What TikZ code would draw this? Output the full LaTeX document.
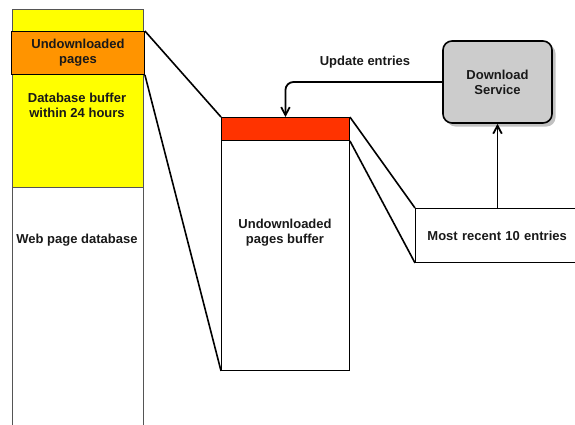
\documentclass[tikz,border=0pt]{standalone}
\usepackage{fontspec}
\setmainfont{Liberation Sans}
\usepackage{xcolor}
\usetikzlibrary{arrows.meta,positioning,shadows}
\definecolor{bufyellow}{HTML}{FFFF00}
\definecolor{pageorange}{HTML}{FF9400}
\definecolor{headred}{HTML}{FF3300}
\definecolor{servgray}{HTML}{CCCCCC}
\definecolor{edgegray}{HTML}{555555}

\begin{document}
\begin{tikzpicture}[
  x=1pt,y=-1pt,
  every node/.style={font=\fontsize{13}{15}\selectfont\bfseries,text=black!90,align=center,inner sep=0pt},
  col/.style={draw=edgegray,anchor=north west,minimum width=131pt},
  blk/.style={draw=black,anchor=north west,line width=0.9pt},
  link/.style={line width=1.6pt},
  arrow/.style={-{Straight Barb[length=2.8mm,width=3mm]},line width=1.8pt}
]
\useasboundingbox (0,0) rectangle (575,424);
% left column
\node[col,fill=white,minimum height=430pt] (webdb) at (12,9) {};
\node[col,fill=bufyellow,minimum height=178pt] (dbbuf) at (12,9) {};
\node[blk,fill=pageorange,minimum width=133pt,minimum height=43pt] (undl) at (11,31) {Undownloaded\\pages};
\node (dbbuftxt) at (77,105.5) {Database buffer\\within 24 hours};
\node (webdbtxt) at (77,240) {Web page database};
% middle buffer
\node[blk,fill=white,minimum width=128pt,minimum height=253pt] (buf) at (221,117) {};
\node[blk,fill=headred,minimum width=128pt,minimum height=23pt] (bufhead) at (221,117) {};
\node (buftxt) at (285,232.5) {Undownloaded\\pages buffer};
% right side
\node[blk,fill=white,minimum width=170pt,minimum height=54pt,text width=164pt,align=left] (recent) at (415,208) {\hspace*{9pt}Most recent 10 entries};
\node[draw=black,line width=1.6pt,fill=servgray,rounded corners=9pt,minimum width=109pt,minimum height=82pt,
  drop shadow={shadow xshift=3.5pt,shadow yshift=-3.5pt,fill=black!30,opacity=0.8}] (serv) at (497.5,82) {Download\\Service};
% zoom lines
\draw[link] (undl.north east) -- (bufhead.north west);
\draw[link] (undl.south east) -- (buf.south west);
\draw[link] (bufhead.north east) -- (recent.north west);
\draw[link] (bufhead.south east) -- (recent.south west);
% arrows
\draw[arrow] (recent.north -| serv) -- (serv.south);
\draw[arrow,rounded corners=8pt] (serv.west) -| (bufhead.north);
\node (updlbl) at (365,62) {Update entries};
\end{tikzpicture}
\end{document}
